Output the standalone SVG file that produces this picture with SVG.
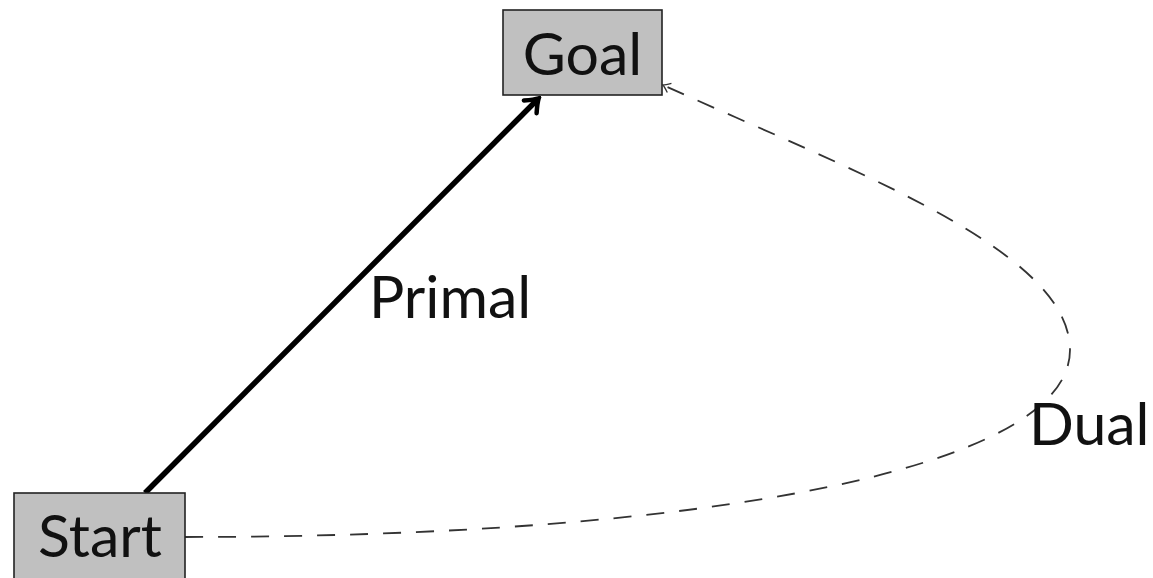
<svg xmlns="http://www.w3.org/2000/svg" width="1153" height="578" viewBox="0 0 1153 578">
<style>
.box{fill:#c0c0c0;stroke:#222;stroke-width:1.6}
.lbl{font-family:Lato,"Open Sans","DejaVu Sans",sans-serif;font-size:59px;fill:#111}
</style>
<defs>
<marker id="thick" markerUnits="userSpaceOnUse" viewBox="-14 -12 18 24" markerWidth="18" markerHeight="24" refX="0" refY="0" orient="auto">
<path d="M-11,-9 Q-3,-2 1,0 Q-3,2 -11,9" fill="none" stroke="#000" stroke-width="4.5" stroke-linecap="round"/>
</marker>
<marker id="thin" markerUnits="userSpaceOnUse" viewBox="-10 -8 12 16" markerWidth="12" markerHeight="16" refX="0" refY="0" orient="auto">
<path d="M-7,-5 Q-2,-1 0,0 Q-2,1 -7,5" fill="none" stroke="#333" stroke-width="1.3"/>
</marker>
</defs>
<g id="connectors">
<line x1="145" y1="493" x2="538" y2="99" stroke="#000" stroke-width="5.5" marker-end="url(#thick)"/>
<path d="M185,537 C700,537 1070,470 1070,350 C1070,250 850,170 663,85" fill="none" stroke="#333" stroke-width="1.8" stroke-dasharray="18,15" marker-end="url(#thin)"/>
</g>
<g id="goal">
<rect class="box" x="503" y="10" width="159" height="85"/>
<text class="lbl" x="582.5" y="75" text-anchor="middle">Goal</text>
</g>
<g id="start">
<rect class="box" x="14" y="493" width="171" height="90"/>
<text class="lbl" x="100" y="557" text-anchor="middle">Start</text>
</g>
<g id="labels">
<text class="lbl" x="369" y="318">Primal</text>
<text class="lbl" x="1029" y="445">Dual</text>
</g>
</svg>
